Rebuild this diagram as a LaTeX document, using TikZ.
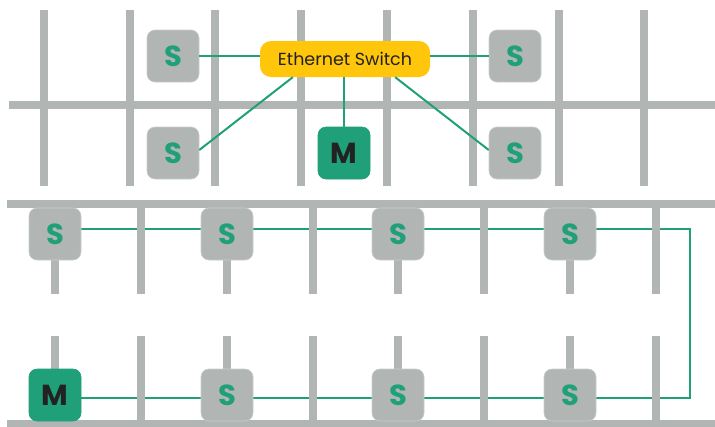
\documentclass[tikz,border=0pt]{standalone}
\usepackage{fontspec}
\setmainfont{Poppins}
\usetikzlibrary{calc}
\definecolor{bargray}{HTML}{B1B5B4}
\definecolor{edgegray}{HTML}{C9CCCB}
\definecolor{lgreen}{HTML}{1FA078}
\definecolor{swyellow}{HTML}{FFC60B}
\definecolor{ink}{HTML}{222222}
\pgfdeclarelayer{bg}
\pgfdeclarelayer{mid}
\pgfsetlayers{bg,mid,main}
\tikzset{
  bar/.style={draw=bargray, line width=8pt},
  link/.style={draw=lgreen, line width=2pt},
  sbox/.style={rectangle, rounded corners=8pt, fill=bargray, draw=edgegray, line width=0.6pt,
    minimum width=52pt, minimum height=52pt, inner sep=0pt, text=lgreen,
    font=\fontsize{29}{29}\selectfont\bfseries},
  mbox/.style={sbox, fill=lgreen, draw=lgreen, text=ink},
  switchbox/.style={rectangle, rounded corners=11pt, fill=swyellow, minimum width=170pt,
    minimum height=36pt, inner sep=0pt, text=ink, font=\fontsize{17.5}{17.5}\selectfont}
}
\begin{document}
\begin{tikzpicture}[x=1pt,y=-1pt]
\useasboundingbox (0,0) rectangle (715,426);
% ---------- top section ----------
\begin{pgfonlayer}{bg}
\foreach \x in {44,130,215,301,387,473,559,644}
  \draw[bar] (\x,10) -- (\x,186);
\draw[bar] (9,105) -- (715,105);
\end{pgfonlayer}
\node[switchbox] (sw) at (345,59) {Ethernet Switch};
\node[sbox] (s1) at (173,56) {S};
\node[sbox] (s2) at (173,153) {S};
\node[mbox] (m1) at (344,153) {M};
\node[sbox] (s3) at (515,56) {S};
\node[sbox] (s4) at (515,153) {S};
\draw[link] (s1.east) -- (s1.east -| sw.west);
\draw[link] (sw.east |- s3.west) -- (s3.west);
\draw[link] (sw.south -| m1) -- (m1.north);
\draw[link] ($(sw.south west)+(33,0)$) -- ([yshift=3pt]s2.east);
\draw[link] ($(sw.south east)+(-35,0)$) -- ([yshift=3pt]s4.west);
% ---------- bottom section ----------
\begin{pgfonlayer}{mid}
\foreach \x in {55,141,227,313,398,484,570,656}{
  \draw[bar] (\x,204) -- (\x,294);
  \draw[bar] (\x,336) -- (\x,424);
}
\draw[bar] (7,204) -- (715,204);
\draw[bar] (7,424) -- (715,424);
\end{pgfonlayer}
\node[sbox] (b1) at (55,234) {S};
\node[sbox] (b2) at (227,234) {S};
\node[sbox] (b3) at (398,234) {S};
\node[sbox] (b4) at (570,234) {S};
\node[mbox] (m2) at (55,395) {M};
\node[sbox] (b5) at (227,395) {S};
\node[sbox] (b6) at (398,395) {S};
\node[sbox] (b7) at (570,395) {S};
\coordinate (c1) at (690,229);
\coordinate (c2) at (690,398);
\begin{pgfonlayer}{bg}
\draw[link] ([yshift=5pt]b1.center) -- (c1) -- (c2) -- ([yshift=-3pt]m2.center);
\end{pgfonlayer}
\end{tikzpicture}
\end{document}
